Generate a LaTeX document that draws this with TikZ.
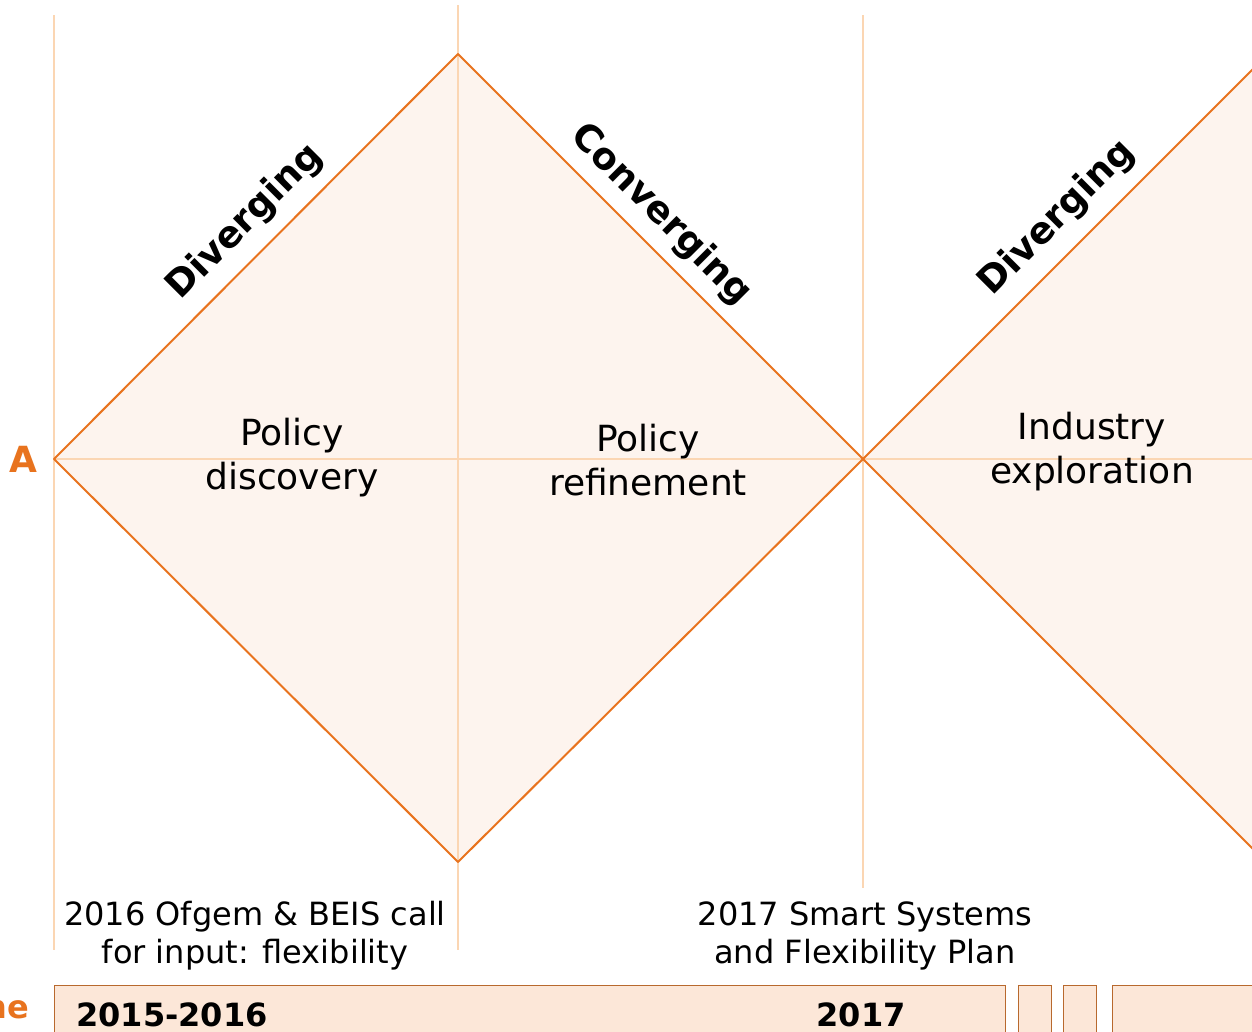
\documentclass[tikz,border=0pt]{standalone}
\usepackage{fontspec}
\setmainfont{DejaVu Sans}
\definecolor{edgeorange}{HTML}{E8731E}
\definecolor{softfill}{HTML}{FDF4EE}
\definecolor{guidepeach}{HTML}{FBD6B3}
\definecolor{boxfill}{HTML}{FCE7D8}
\definecolor{boxline}{HTML}{B8692E}

\begin{document}
\begin{tikzpicture}
  [x=1pt,y=-1pt,
   guide/.style={draw=guidepeach,line width=1.2pt},
   edge/.style={draw=edgeorange,line width=2pt},
   phase/.style={inner sep=0pt,font=\fontsize{37}{44}\selectfont\bfseries},
   stage/.style={align=center,inner sep=0pt,font=\fontsize{36}{44}\selectfont},
   note/.style={align=center,inner sep=0pt,font=\fontsize{32}{38}\selectfont},
   year/.style={inner sep=0pt,font=\fontsize{32}{38}\selectfont\bfseries},
   yearbox/.style={draw=boxline,fill=boxfill,line width=1pt}]
  \useasboundingbox (0,0) rectangle (1252,1031);
  \clip (0,0) rectangle (1252,1031);

  % diamond corners
  \coordinate (l1) at (54,459);
  \coordinate (t1) at (458,54);
  \coordinate (b1) at (458,862);
  \coordinate (r1) at (863,459);
  \coordinate (t2) at (1267,55);
  \coordinate (b2) at (1267,863);
  \coordinate (r2) at (1671,459);

  \fill[softfill] (l1) -- (t1) -- (r1) -- (b1) -- cycle;
  \fill[softfill] (r1) -- (t2) -- (r2) -- (b2) -- cycle;

  % guide lines
  \coordinate (g1a) at (54,15);   \coordinate (g1b) at (54,950);
  \coordinate (g2a) at (458,5);   \coordinate (g2b) at (458,950);
  \coordinate (g3a) at (863,15);  \coordinate (g3b) at (863,888);
  \coordinate (hend) at (1252,459);
\foreach \from/\to in {g1a/g1b, g2a/g2b, g3a/g3b, l1/hend}
    \draw[guide] (\from) -- (\to);

\foreach \from/\to in {l1/t1, t1/r1, l1/b1, b1/r1, r1/t2, r1/b2}
    \draw[edge,line cap=round] (\from) -- (\to);

  \node[phase,rotate=45]  (div1) at (245,222)  {Diverging};
  \node[phase,rotate=-45] (conv) at (661,215)  {Converging};
  \node[phase,rotate=45]  (div2) at (1057,218) {Diverging};

  \node[stage] (disc) at (292,458)  {Policy\\discovery};
  \node[stage] (refi) at (648,460)  {Policy\\refinement};
  \node[stage] (expl) at (1092,452) {Industry\\exploration};

  \node[note] (ofgem) at (255,936) {2016 Ofgem \& BEIS call\\for input: flexibility};
  \node[note] (plan)  at (865,936) {2017 Smart Systems\\and Flexibility Plan};

  \node[font=\fontsize{36}{44}\selectfont\bfseries,text=edgeorange,inner sep=0pt] (lA) at (23,459) {A};
  \node[font=\fontsize{32}{38}\selectfont\bfseries,text=edgeorange,inner sep=0pt,anchor=east] (lne) at (29,1010) {ne};

  % timeline boxes
  \draw[yearbox] (54,985) rectangle (1005,1045);
  \draw[yearbox] (1018,985) rectangle (1051,1045);
  \draw[yearbox] (1063,985) rectangle (1096,1045);
  \draw[yearbox] (1112,985) rectangle (1262,1045);
  \node[year] (y1) at (172,1015) {2015-2016};
  \node[year] (y2) at (861,1015) {2017};
\end{tikzpicture}
\end{document}
